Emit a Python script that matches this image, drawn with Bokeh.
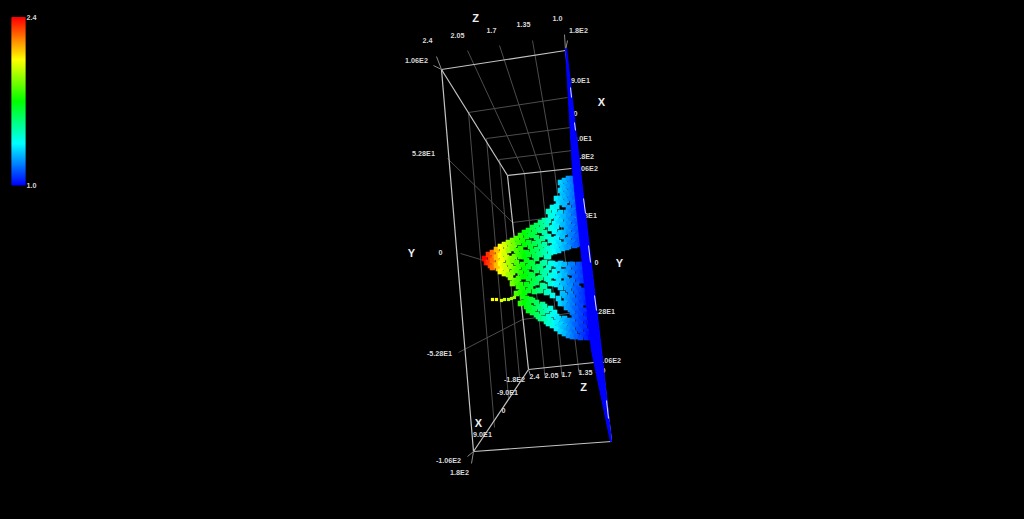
from bokeh.plotting import figure
from bokeh.embed import file_html
from bokeh.resources import INLINE
from bokeh.core.properties import value
from bokeh.models import LinearColorMapper, ColumnDataSource

# colour scale
scale_min = 1.0
scale_max = 2.4
scale_stops = [(0, 0, 255), (0, 255, 255), (0, 255, 0), (255, 255, 0), (255, 0, 0)]

# point cloud: screen x, value, screen ys
cloud_cols = [
 (484, 2.40, [258, 262]),
 (488, 2.33, [254, 258, 262, 265]),
 (492, 2.25, [252, 256, 260, 264, 267]),
 (496, 2.15, [249, 253, 257, 261, 265, 268]),
 (500, 2.05, [246, 251, 255, 259, 263, 267, 271]),
 (504, 2.00, [244, 249, 253, 257, 265, 269, 273]),
 (508, 1.93, [242, 246, 250, 258, 262, 266, 274, 277]),
 (512, 1.87, [240, 244, 248, 256, 260, 268, 272, 280, 283]),
 (516, 1.80, [238, 242, 250, 254, 262, 266, 270, 278, 282, 286, 293]),
 (520, 1.75, [235, 240, 248, 252, 256, 264, 272, 276, 284, 288, 292, 296, 303]),
 (524, 1.70, [232, 236, 244, 252, 256, 260, 268, 272, 276, 284, 292, 298, 302, 306]),
 (528, 1.66, [230, 234, 242, 246, 254, 262, 266, 274, 278, 286, 290, 299, 303, 307, 310]),
 (532, 1.62, [227, 231, 235, 243, 251, 255, 263, 267, 275, 279, 283, 291, 300, 308, 312]),
 (536, 1.58, [225, 229, 237, 241, 249, 253, 258, 266, 270, 278, 282, 290, 302, 306, 314, 316]),
 (540, 1.53, [222, 226, 230, 238, 246, 250, 254, 263, 267, 271, 277, 285, 290, 304, 308, 312, 318]),
 (544, 1.47, [220, 224, 232, 236, 244, 248, 252, 256, 262, 270, 274, 278, 286, 292, 306, 310, 318, 321]),
 (548, 1.42, [211, 216, 220, 228, 236, 240, 248, 252, 256, 263, 267, 275, 279, 283, 291, 308, 316, 320, 323]),
 (552, 1.38, [207, 211, 215, 223, 227, 231, 239, 243, 247, 251, 263, 271, 275, 283, 295, 312, 314, 322, 325]),
 (556, 1.33, [198, 202, 206, 214, 218, 222, 226, 234, 238, 242, 246, 250, 264, 268, 276, 280, 284, 298, 316, 318, 322, 326, 328]),
 (560, 1.29, [182, 186, 190, 194, 198, 202, 212, 216, 220, 224, 232, 236, 244, 248, 263, 271, 275, 283, 287, 293, 303, 320, 324, 328, 331]),
 (564, 1.25, [180, 184, 188, 192, 196, 200, 204, 212, 216, 220, 224, 228, 232, 240, 244, 247, 264, 271, 275, 279, 283, 287, 295, 299, 303, 307, 318, 322, 326, 330, 333]),
 (568, 1.21, [178, 182, 186, 190, 194, 198, 207, 211, 215, 219, 223, 227, 231, 235, 239, 243, 246, 264, 268, 272, 281, 285, 289, 293, 297, 301, 305, 309, 320, 324, 328, 332, 335]),
 (572, 1.17, [178, 182, 186, 190, 194, 198, 202, 206, 210, 214, 218, 222, 226, 230, 234, 238, 242, 245, 264, 268, 272, 276, 280, 288, 296, 300, 304, 308, 312, 316, 320, 324, 328, 332, 336]),
 (576, 1.13, [180, 184, 188, 192, 196, 200, 204, 208, 212, 216, 220, 224, 228, 232, 236, 240, 244, 264, 268, 272, 276, 280, 284, 288, 292, 296, 300, 304, 308, 312, 316, 320, 324, 328, 336]),
 (580, 1.10, [212, 216, 220, 224, 228, 232, 236, 240, 243, 264, 268, 272, 276, 280, 290, 294, 298, 302, 306, 310, 314, 318, 322, 326, 330, 334, 337]),
 (584, 1.07, [264, 268, 272, 276, 280, 284, 290, 294, 298, 302, 310, 314, 318, 322, 326, 330, 334, 337]),
 (588, 1.03, [290, 294, 298, 302, 306, 310, 314, 318, 322, 326, 333, 337]),
]
strag_x = [492, 496, 501, 504, 508, 511, 514]
strag_y = [299, 299, 300, 299, 299, 298, 297]
strag_v = [2.05, 2.05, 2.00, 1.98, 1.95, 1.92, 1.90]

# the value-1.0 sheet of points, seen edge on
sheet_x = [565, 566, 580, 601, 611, 610, 591, 572]
sheet_y = [48, 48, 170, 350, 441, 441, 350, 170]
sheet_glints = [(570, 87, 571, 97), (574, 122, 575, 130), (583, 198, 585, 213),
                (588, 245, 590, 262), (594, 295, 596, 310), (606, 400, 608, 418)]

# box
box_lines = [
 (441, 69, 565, 50), (441, 69, 507, 175), (507, 175, 571, 168),
 (441, 69, 473, 451), (507, 175, 528, 369), (528, 369, 473, 451),
 (528, 369, 594, 362), (473, 451, 611, 441), (565, 50, 611, 441),
]
box_ticks = [
 (436, 56, 441, 69), (433, 65, 441, 69), (564, 34, 565, 50), (567, 40, 565, 50),
 (467, 456, 473, 451), (471, 463, 473, 451), (528, 369, 530, 375), (544, 372, 545, 377),
 (561, 371, 562, 376), (578, 368, 579, 373),
]
grid_lines = [
 (467, 50, 524, 173), (499, 45, 540, 170), (532, 40, 554, 169),
 (468, 112, 567, 97), (486, 138, 570, 127), (499, 159, 572, 150),
 (468, 112, 494, 427), (486, 138, 508, 398), (499, 159, 519, 377),
 (447, 158, 512, 222), (512, 222, 576, 214),
 (460, 253, 517, 270), (517, 270, 583, 264),
 (458, 352, 522, 319), (522, 319, 590, 310),
 (524, 173, 544, 372), (540, 170, 561, 371), (554, 169, 578, 368),
]

# texts
tick_texts = ["2.4", "2.05", "1.7", "1.35", "1.0", "1.8E2", "1.06E2", "9.0E1", "0", "-9.0E1", "-1.8E2",
              "1.06E2", "5.28E1", "0", "-5.28E1", "-1.06E2", "5.28E1", "0", "-5.28E1", "-1.06E2",
              "1.8E2", "9.0E1", "0", "-9.0E1", "-1.8E2", "2.4", "2.05", "1.7", "1.35", "1.0"]
tick_x = [427, 457, 491, 523, 557, 578, 416, 580, 575, 581, 583,
          586, 423, 440, 439, 448, 585, 596, 602, 608,
          459, 482, 503, 507, 514, 534, 551, 566, 585, 600]
tick_y = [40, 35, 30, 24, 18, 30, 60, 80, 113, 138, 156,
          168, 153, 252, 353, 460, 215, 262, 311, 360,
          472, 434, 410, 392, 379, 376, 375, 374, 372, 370]
title_texts = ["Z", "X", "Y", "Y", "Z", "X"]
title_x = [475, 601, 411, 619, 583, 478]
title_y = [17, 101, 252, 262, 386, 422]
bar_texts = ["2.4", "1.0"]
bar_x = [31, 31]
bar_y = [17, 185]

W, H = 1024, 519
p = figure(width=W, height=H, x_range=(0, 1024), y_range=(519, 0), toolbar_location=None,
           output_backend="svg", min_border=0, background_fill_color="#000000",
           border_fill_color="#000000", outline_line_color=None)
p.axis.visible = False
p.grid.visible = False


def lerp_palette(stops, n=256):
    out = []
    for i in range(n):
        t = i / (n - 1) * (len(stops) - 1)
        k = min(int(t), len(stops) - 2)
        f = t - k
        a, b = stops[k], stops[k + 1]
        out.append("#%02x%02x%02x" % tuple(round(a[j] + (b[j] - a[j]) * f) for j in range(3)))
    return out


palette = lerp_palette(scale_stops)
mapper = LinearColorMapper(palette=palette, low=scale_min, high=scale_max)


def segs(lines, color, width):
    p.segment([l[0] for l in lines], [l[1] for l in lines], [l[2] for l in lines], [l[3] for l in lines],
              line_color=color, line_width=width)


segs(grid_lines, "#4c4c4c", 1)
segs(box_lines, "#c4c4c4", 1.2)
segs(box_ticks, "#8a8a8a", 1)

font = value("Liberation Sans")
p.text(tick_x, tick_y, text=tick_texts, text_font=font, text_font_size="7.2px", text_font_style="bold",
       text_color="#d8d8d8", text_align="center", text_baseline="middle")
p.text(title_x, title_y, text=title_texts, text_font=font, text_font_size="11px", text_font_style="bold",
       text_color="#eeeeee", text_align="center", text_baseline="middle")

xs, ys, vs = [], [], []
for cx, v, col in cloud_cols:
    for i, y in enumerate(col):
        xs.append(cx + (i % 2) * 2)   # points sit on a brick raster, as the picture's do
        ys.append(y)
        vs.append(v - (i % 2) * 0.02)
xs += strag_x
ys += strag_y
vs += strag_v
src = ColumnDataSource(dict(x=xs, y=ys, v=vs))
p.scatter(xs[:-7], ys[:-7], size=5.6, marker="square", line_color=None,
          fill_color=[palette[min(255, round((v - scale_min) / (scale_max - scale_min) * 255))] for v in vs[:-7]])
p.scatter(strag_x, strag_y, size=3.2, marker="square", line_color=None,
          fill_color=[palette[round((v - scale_min) / (scale_max - scale_min) * 255)] for v in strag_v])

p.patch(sheet_x, sheet_y, fill_color="#0000ff", line_color="#0000ff", line_width=1)
segs(sheet_glints, "#dcdcff", 1)

# colour bar
n = 168
bar_vals = [scale_min + (scale_max - scale_min) * i / (n - 1) for i in range(n)]
bar_tops = [185 - i - 1.5 for i in range(n)]
bar_bottoms = [185 - i for i in range(n)]
p.quad(left=[11] * n, right=[25] * n, top=bar_tops, bottom=bar_bottoms,
       fill_color=[palette[round((v - scale_min) / (scale_max - scale_min) * 255)] for v in bar_vals],
       line_color=None)
p.text(bar_x, bar_y, text=bar_texts, text_font=font, text_font_size="7.2px", text_font_style="bold",
       text_color="#d8d8d8", text_align="center", text_baseline="middle")

html = file_html(p, INLINE).replace("<head>", "<head><style>html,body{background:#000;overflow:hidden}</style>", 1)
open("out.html", "w").write(html)
